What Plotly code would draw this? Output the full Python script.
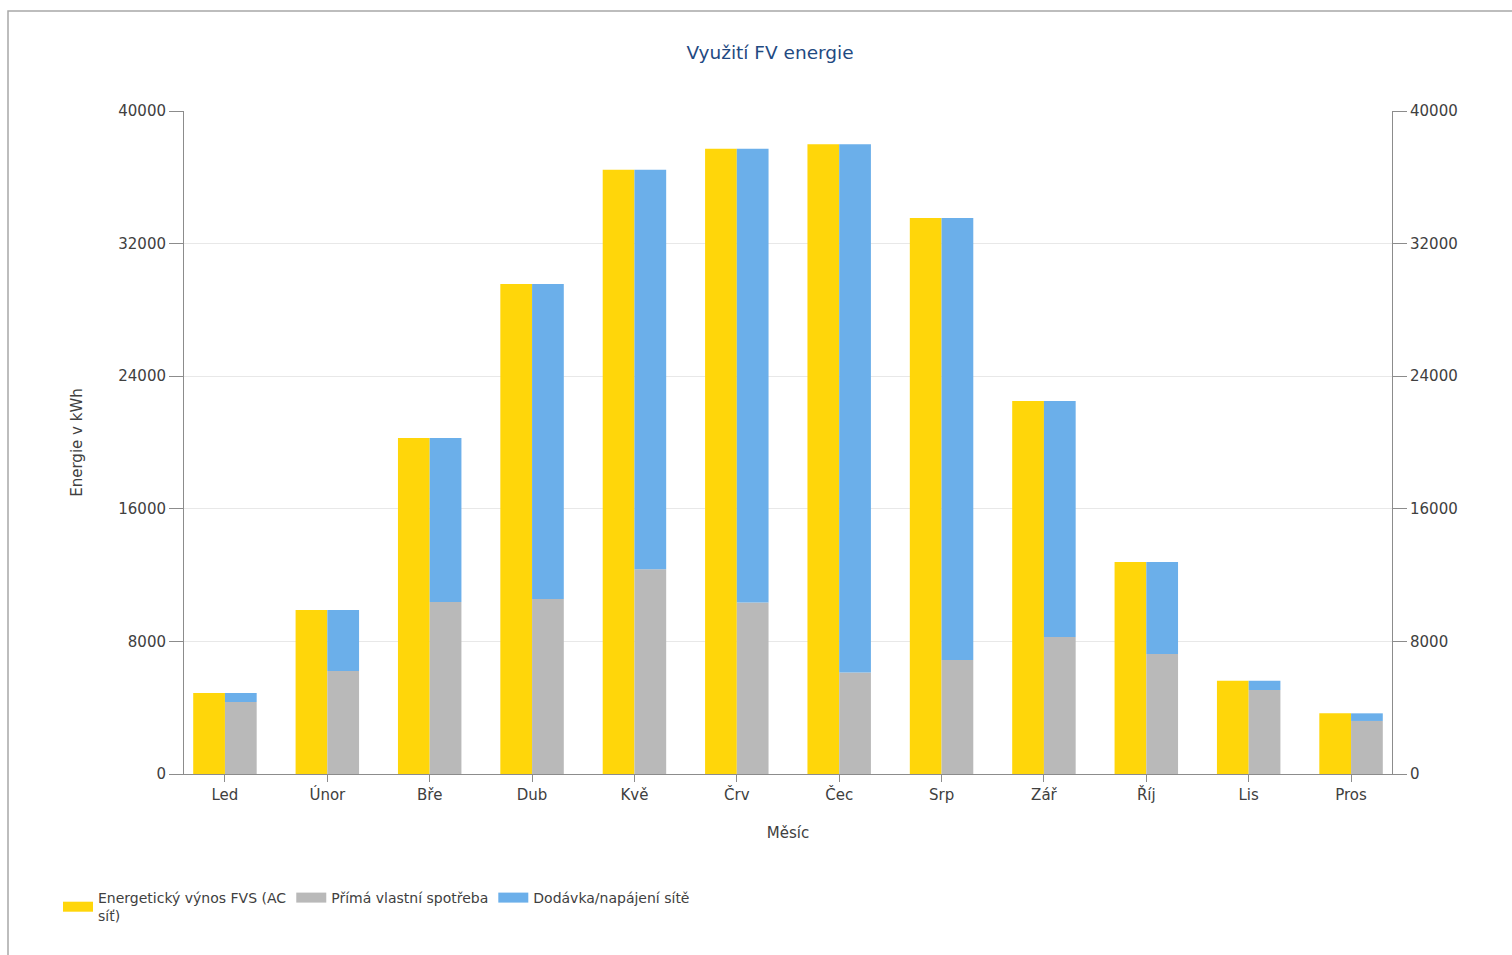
import plotly.graph_objects as go

months = ["Led", "Únor", "Bře", "Dub", "Kvě", "Črv", "Čec", "Srp", "Zář", "Říj", "Lis", "Pros"]
vynos = [4880, 9890, 20270, 29560, 36450, 37730, 38000, 33540, 22500, 12790, 5630, 3660]
vlastni = [4340, 6210, 10370, 10560, 12350, 10340, 6130, 6880, 8270, 7240, 5070, 3200]
dodavka = [v - s for v, s in zip(vynos, vlastni)]

yticks = [0, 8000, 16000, 24000, 32000, 40000]
series_names = ["Energetický výnos FVS (AC<br>síť)", "Přímá vlastní spotřeba", "Dodávka/napájení sítě"]
series_colors = ["#FFD60A", "#B9B9B9", "#6BAFEA"]

FONT = "DejaVu Sans"
TXT = "#404040"

fig = go.Figure()
fig.add_trace(go.Bar(
    x=months, y=vynos, name=series_names[0], showlegend=False,
    marker=dict(color=series_colors[0], line=dict(width=0)), offsetgroup="a",
))
fig.add_trace(go.Bar(
    x=months, y=vlastni, name=series_names[1], showlegend=False,
    marker=dict(color=series_colors[1], line=dict(width=0)), offsetgroup="b",
))
fig.add_trace(go.Bar(
    x=months, y=dodavka, base=vlastni, name=series_names[2], showlegend=False,
    marker=dict(color=series_colors[2], line=dict(width=0)), offsetgroup="b",
))
# legend entries with wide swatches
for nm, col in zip(series_names, series_colors):
    fig.add_trace(go.Scatter(x=[None], y=[None], mode="lines", name=nm,
                             line=dict(color=col, width=15), hoverinfo="skip"))
# invisible trace to carry the right axis
fig.add_trace(go.Scatter(x=months, y=vynos, yaxis="y2", mode="markers",
                         marker=dict(opacity=0), showlegend=False, hoverinfo="skip"))

fig.update_layout(
    width=1512, height=955,
    margin=dict(l=184, r=120, t=111, b=181),
    paper_bgcolor="white", plot_bgcolor="white",
    barmode="group", bargap=0.38, bargroupgap=0,
    font=dict(family=FONT, size=14, color=TXT),
    title=dict(text="Využití FV energie", x=770 / 1512, xref="container", xanchor="center",
               y=1 - 53 / 955, yanchor="middle",
               font=dict(family=FONT, size=18.5, color="#1F4A82")),
    xaxis=dict(
        range=[-0.4, 11.4], showline=True, linecolor="#8C8C8C", linewidth=1,
        ticks="outside", ticklen=7, tickcolor="#8C8C8C", showgrid=False,
        tickfont=dict(size=15, color=TXT),
        title=dict(text="Měsíc", font=dict(size=15, color=TXT), standoff=24),
    ),
    yaxis=dict(
        range=[0, 40000], tickvals=yticks, tickformat="d", showline=True, linecolor="#8C8C8C",
        ticks="outside", ticklen=14, tickcolor="#8C8C8C",
        gridcolor="#E8E8E8", zeroline=False, tickfont=dict(size=15, color=TXT),
        title=dict(text="Energie v kWh", font=dict(size=15, color=TXT), standoff=32),
    ),
    yaxis2=dict(
        range=[0, 40000], tickvals=yticks, tickformat="d", overlaying="y", side="right",
        showline=True, linecolor="#8C8C8C", ticks="outside", ticklen=14,
        tickcolor="#8C8C8C", showgrid=False, zeroline=False,
        tickfont=dict(size=15, color=TXT),
    ),
    legend=dict(
        orientation="h", x=(58 - 184) / 1208, xanchor="left",
        y=(774 - 882) / 663, yanchor="top", valign="middle",
        font=dict(size=14, color=TXT), traceorder="normal",
        tracegroupgap=0,
    ),
    shapes=[dict(type="rect", xref="paper", yref="paper",
                 x0=(8 - 184) / 1208, x1=(1530 - 184) / 1208,
                 y0=(774 - 975) / 663, y1=(774 - 11) / 663,
                 line=dict(color="#A8A8A8", width=1.5), fillcolor="rgba(0,0,0,0)",
                 layer="below")],
)

fig.write_html("out.html")
